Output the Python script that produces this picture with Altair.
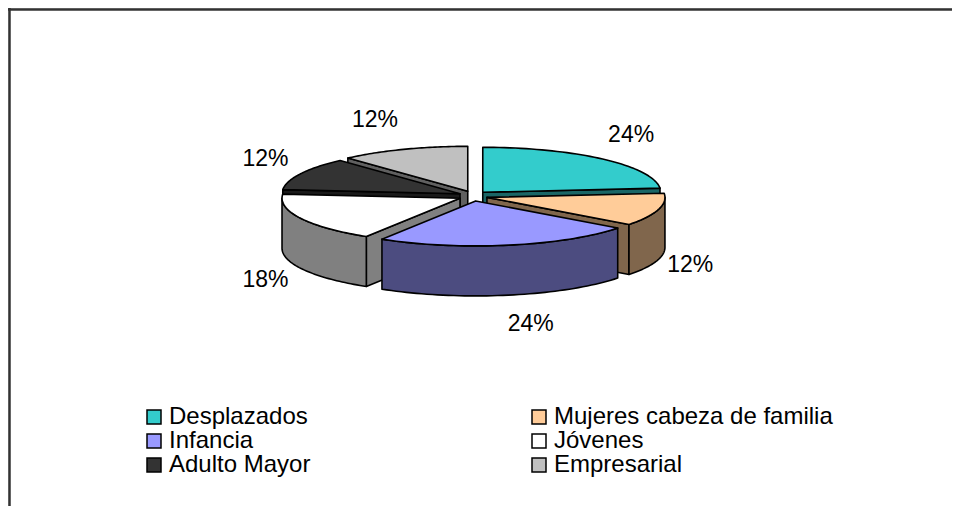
import math
import altair as alt
import pandas as pd

# ---- data ----
categories = ["Desplazados", "Mujeres cabeza de familia", "Infancia",
              "Jóvenes", "Adulto Mayor", "Empresarial"]
counts = [4, 2, 4, 3, 2, 2]          # shares 24%, 12%, 24%, 18%, 12%, 12%
top_colors = ["#33CCCC", "#FFCC99", "#9999FF", "#FFFFFF", "#333333", "#C0C0C0"]
side_colors = ["#1A6666", "#80664C", "#4C4C80", "#808080", "#1A1A1A", "#606060"]

# ---- layout (page pixels) ----
W, H = 944, 498
CX, CY = 473, 196      # pie centre
RX, RY = 178, 45       # ellipse radii of the tilted pie
DEPTH = 50             # thickness of the pie
EX, EY = 14.5, 5       # explosion offset
N = 48                 # arc resolution
FONT = "Liberation Sans"

df = pd.DataFrame({"cat": categories, "count": counts, "k": list(range(len(categories)))})

xs = alt.Scale(domain=[8, 8 + W], nice=False, zero=False)
ys = alt.Scale(domain=[8, 8 + H], nice=False, zero=False, reverse=True)


def angles(ch):
    return (ch.transform_window(cum="sum(count)", sort=[alt.SortField("k")])
              .transform_joinaggregate(total="sum(count)")
              .transform_calculate(
                  a0="2*PI*(datum.cum - datum.count)/datum.total",
                  a1="2*PI*datum.cum/datum.total",
                  mid="(datum.a0 + datum.a1)/2",
                  px=f"{CX} + {EX}*sin(datum.mid)",
                  py=f"{CY} - {EY}*cos(datum.mid)",
              ))


def polygons(ch):
    return (angles(ch)
            .transform_calculate(parts="['end','start','side','top']")
            .transform_flatten(["parts"], as_=["part"])
            .transform_calculate(s="max(datum.a0, PI/2)", e="min(datum.a1, 3*PI/2)")
            .transform_filter(
                "(datum.part=='top') || (datum.part=='side' && datum.e > datum.s + 1e-6)"
                " || (datum.part=='start' && sin(datum.a0) < -1e-6)"
                " || (datum.part=='end' && sin(datum.a1) > 1e-6)")
            .transform_calculate(
                idx=f"sequence(0, datum.part=='top' ? {N + 3} : (datum.part=='side' ? {2 * N + 2} : 4))")
            .transform_flatten(["idx"], as_=["i"])
            .transform_calculate(
                ang=(f"datum.part=='top' ? ((datum.i==0 || datum.i=={N + 2}) ? datum.mid : "
                     f"datum.a0 + (datum.a1-datum.a0)*(datum.i-1)/{N}) : "
                     f"datum.part=='side' ? (datum.i <= {N} ? datum.s + (datum.e-datum.s)*datum.i/{N} : "
                     f"datum.s + (datum.e-datum.s)*({2 * N + 1}-datum.i)/{N}) : "
                     f"datum.part=='start' ? datum.a0 : datum.a1"),
                r=(f"datum.part=='top' ? ((datum.i==0 || datum.i=={N + 2}) ? 0 : 1) : "
                   f"datum.part=='side' ? 1 : ((datum.i==1 || datum.i==2) ? 1 : 0)"),
                off=(f"datum.part=='top' ? 0 : datum.part=='side' ? (datum.i > {N} ? 1 : 0) : "
                     f"(datum.i >= 2 ? 1 : 0)"),
            )
            .transform_calculate(
                x=f"datum.px + datum.r*{RX}*sin(datum.ang)",
                y=f"datum.py - datum.r*{RY}*cos(datum.ang) + datum.off*{DEPTH}",
            ))


# legend fills column by column: order entries so they read row by row (2 columns)
legend_idx = list(range(0, len(categories), 2)) + list(range(1, len(categories), 2))
legend_domain = [categories[j] for j in legend_idx]
legend_range = [top_colors[j] for j in legend_idx]

legend = alt.Legend(
    title=None, orient="none", legendX=134, legendY=397, columns=2,
    columnPadding=216, rowPadding=0, symbolType="square", symbolSize=196,
    symbolStrokeColor="black", symbolStrokeWidth=1.5, labelFont=FONT,
    labelFontSize=24, labelColor="black", labelLimit=400, labelOffset=3, padding=0,
)
color = alt.Color("cat:N", scale=alt.Scale(domain=legend_domain, range=legend_range), legend=legend)

# painter's order: back slices first
tot = sum(counts)
mids, run = [], 0
for c in counts:
    mids.append(2 * math.pi * (run + c / 2) / tot)
    run += c
order = sorted(range(len(counts)), key=lambda j: -math.cos(mids[j]))

layers = []
for j in order:
    name = categories[j]
    poly = polygons(alt.Chart(df)).transform_filter(alt.datum.cat == name)
    enc = dict(
        x=alt.X("x:Q", scale=xs, axis=None),
        y=alt.Y("y:Q", scale=ys, axis=None),
        order=alt.Order("i:Q"),
        detail=alt.Detail("part:N"),
    )
    sides = (poly.transform_filter("datum.part != 'top'")
             .mark_line(filled=True, fill=side_colors[j], stroke="black", strokeWidth=1.6,
                        strokeJoin="round", interpolate="linear-closed")
             .encode(**enc))
    top = (poly.transform_filter("datum.part == 'top'")
           .mark_line(filled=True, stroke="black", strokeWidth=1.6, strokeJoin="round",
                      interpolate="linear-closed")
           .encode(color=color, **enc))
    layers += [sides, top]

labels = (angles(alt.Chart(df))
          .transform_calculate(
              lx=f"{CX - 2} + 205*sin(datum.mid) + 22*(sin(datum.mid) >= 0 ? 1 : -1)",
              ly=f"{CY} - 82*cos(datum.mid) + (cos(datum.mid) < 0 ? 47 : 0)",
              txt="format(datum.count/datum.total, '.0%')",
          )
          .mark_text(font=FONT, fontSize=23, color="black", baseline="middle")
          .encode(x=alt.X("lx:Q", scale=xs, axis=None),
                  y=alt.Y("ly:Q", scale=ys, axis=None),
                  text="txt:N"))

one = pd.DataFrame({"z": [0]})
frame_top = alt.Chart(one).mark_rule(color="#333333", strokeWidth=2.5).encode(
    x=alt.value(0), x2=alt.value(W), y=alt.value(1.5))
frame_left = alt.Chart(one).mark_rule(color="#333333", strokeWidth=2.5).encode(
    x=alt.value(1.5), y=alt.value(0), y2=alt.value(H))

chart = (alt.layer(*layers, labels, frame_top, frame_left)
         .properties(width=W, height=H, padding=0,
                     autosize=alt.AutoSizeParams(type="none"))
         .configure_view(strokeWidth=0)
         .configure(background="white"))

chart.save("out.html", embed_options={"renderer": "svg", "actions": False})
